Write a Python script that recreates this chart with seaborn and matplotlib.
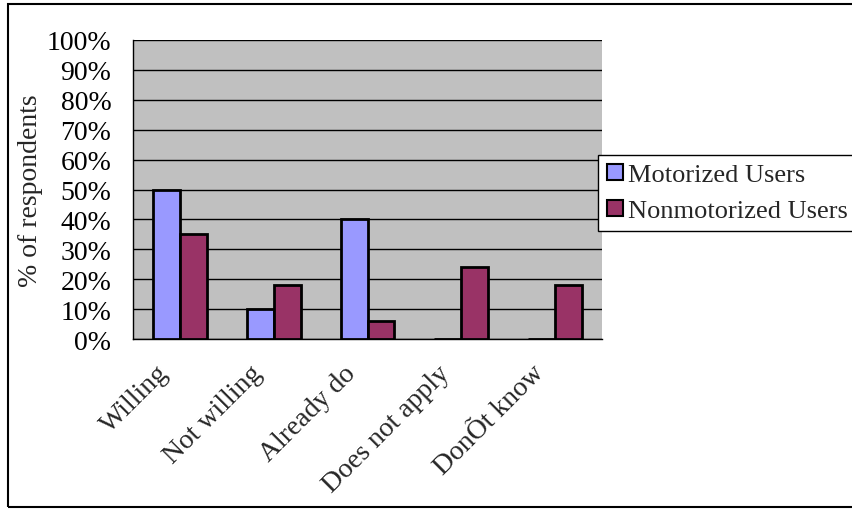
import matplotlib
matplotlib.use("Agg")
import matplotlib.pyplot as plt
from matplotlib.patches import Rectangle
from matplotlib.transforms import ScaledTranslation
import seaborn as sns
import pandas as pd

categories = ["Willing", "Not willing", "Already do", "Does not apply", "DonÕt know"]
motorized = [50, 10, 40, 0, 0]
nonmotorized = [35, 18, 6, 24, 18]
series_names = ["Motorized Users", "Nonmotorized Users"]
y_ticks = list(range(0, 101, 10))

df = pd.DataFrame({
    "category": categories * 2,
    "value": motorized + nonmotorized,
    "series": [series_names[0]] * len(categories) + [series_names[1]] * len(categories),
})

sns.set_theme(style="white")
plt.rcParams["font.family"] = ["Liberation Serif", "DejaVu Serif"]
FS = 20

fig = plt.figure(figsize=(8.52, 5.10), dpi=100)
ax = fig.add_axes([133 / 852, 170 / 510, 469 / 852, 299 / 510])

palette = {series_names[0]: "#9999FF", series_names[1]: "#993366"}
sns.barplot(data=df, x="category", y="value", hue="series", palette=palette,
            width=0.575, gap=0, edgecolor="black", linewidth=2, saturation=1,
            ax=ax, zorder=3)

ax.set_facecolor("#C0C0C0")
ax.set_ylim(0, 100)
ax.set_xlim(-0.5, len(categories) - 0.5)
ax.set_yticks(y_ticks)
ax.set_yticklabels([f"{t}%" for t in y_ticks], fontsize=FS)
ax.yaxis.grid(True, color="black", linewidth=1, zorder=1)
ax.set_axisbelow(True)

ax.set_xticks([i - 0.5 for i in range(len(categories) + 1)], minor=False)
ax.set_xticklabels([""] * (len(categories) + 1))
ax.set_xticks(range(len(categories)), minor=True)
ax.set_xticklabels(categories, minor=True, rotation=45, ha="right",
                   rotation_mode="anchor", fontsize=FS)
ax.tick_params(axis="x", which="minor", length=0, pad=8)
ax.tick_params(axis="x", which="major", length=5, width=1, color="black", direction="out")
ax.tick_params(axis="y", length=6.5, width=1, color="black", direction="out", pad=9)
ax.tick_params(axis="both", labelcolor="black")

# nudge the slanted category labels left and down
shift = ScaledTranslation(-24 / 100, -10 / 100, fig.dpi_scale_trans)
for lbl in ax.get_xticklabels(minor=True):
    lbl.set_transform(lbl.get_transform() + shift)

ax.set_xlabel("")
ax.set_ylabel("% of respondents", fontsize=FS, labelpad=2.5)

for side in ("top", "right"):
    ax.spines[side].set_visible(False)
for side in ("left", "bottom"):
    ax.spines[side].set_visible(True)
    ax.spines[side].set_color("black")
    ax.spines[side].set_linewidth(1)

leg = ax.legend(loc="upper left", bbox_to_anchor=(598 / 852, 1 - 156 / 510),
                bbox_transform=fig.transFigure, fontsize=19, frameon=True,
                fancybox=False, edgecolor="black", framealpha=1,
                handlelength=0.6, handleheight=0.6, handletextpad=0.22,
                borderpad=0.33, labelspacing=0.5, borderaxespad=0)
leg.get_frame().set_linewidth(1)
for h in leg.legend_handles:
    h.set_edgecolor("black")
    h.set_linewidth(1.5)

fig.patches.append(Rectangle((8 / 852, 2 / 510), 1.0, 1 - 7 / 510,
                             transform=fig.transFigure, fill=False,
                             edgecolor="black", linewidth=1.5))

fig.savefig("out.png", dpi=100, facecolor="white")
